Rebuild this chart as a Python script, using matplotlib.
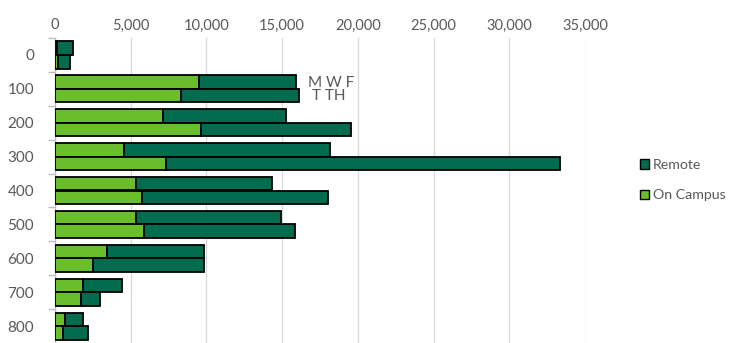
"""Course enrolment by level: on-campus vs remote, MWF and TTH sections."""

import matplotlib

matplotlib.use("Agg")
import matplotlib.pyplot as plt
from matplotlib.patches import Patch
from matplotlib.ticker import FuncFormatter, FixedLocator

LEVELS = ["0", "100", "200", "300", "400", "500", "600", "700", "800"]
MWF_CAMPUS = [100, 9480, 7120, 4570, 5380, 5380, 3450, 1820, 630]
MWF_REMOTE = [1120, 6420, 8150, 13560, 8920, 9560, 6380, 2620, 1210]
TTH_CAMPUS = [200, 8330, 9610, 7360, 5730, 5850, 2520, 1730, 520]
TTH_REMOTE = [800, 7800, 9910, 26010, 12310, 10010, 7310, 1260, 1630]
X_TICKS = [0, 5000, 10000, 15000, 20000, 25000, 30000, 35000]

CAMPUS_COLOR = "#6abd2b"
REMOTE_COLOR = "#036b4e"
TEXT_COLOR = "#595959"


def configure_matplotlib() -> None:
    plt.rcParams["font.family"] = ["Lato", "DejaVu Sans"]
    plt.rcParams["font.size"] = 11
    plt.rcParams["text.color"] = TEXT_COLOR
    plt.rcParams["xtick.color"] = TEXT_COLOR
    plt.rcParams["ytick.color"] = TEXT_COLOR


def main() -> None:
    configure_matplotlib()
    fig = plt.figure(figsize=(7.30, 3.43), dpi=100)
    ax = fig.add_axes([55 / 730, 0.0, (585 - 55) / 730, 1 - 38 / 343])

    pos = list(range(len(LEVELS)))
    top = [p - 0.2 for p in pos]
    bottom = [p + 0.2 for p in pos]
    bar_kw = dict(height=0.4, edgecolor="black", linewidth=1.3, zorder=3)

    ax.barh(top, MWF_CAMPUS, color=CAMPUS_COLOR, **bar_kw)
    ax.barh(top, MWF_REMOTE, left=MWF_CAMPUS, color=REMOTE_COLOR, **bar_kw)
    ax.barh(bottom, TTH_CAMPUS, color=CAMPUS_COLOR, **bar_kw)
    ax.barh(bottom, TTH_REMOTE, left=TTH_CAMPUS, color=REMOTE_COLOR, **bar_kw)

    ax.set_xlim(0, 35000)
    ax.set_ylim(len(LEVELS) - 0.5, -0.5)

    ax.xaxis.tick_top()
    ax.set_xticks(X_TICKS)
    ax.xaxis.set_major_formatter(FuncFormatter(lambda v, _: f"{int(v):,}"))
    ax.tick_params(axis="x", length=0, pad=4, labelsize=10.5)
    ax.grid(axis="x", color="#d9d9d9", linewidth=0.9, zorder=0)

    ax.set_yticks(pos)
    ax.set_yticklabels(LEVELS)
    ax.tick_params(axis="y", which="major", length=0, pad=15, labelsize=11)
    ax.yaxis.set_minor_locator(FixedLocator([p + 0.5 for p in pos[:-1]] + [-0.5]))
    ax.tick_params(axis="y", which="minor", length=5, color="#bfbfbf", width=1)

    for side in ["top", "right", "bottom"]:
        ax.spines[side].set_visible(False)
    ax.spines["left"].set_color("#bfbfbf")
    ax.spines["left"].set_linewidth(1.0)

    ax.text(16700, 0.82, "M W F", ha="left", va="center", fontsize=11, color=TEXT_COLOR)
    ax.text(17000, 1.21, "T TH", ha="left", va="center", fontsize=11, color=TEXT_COLOR)

    handles = [
        Patch(facecolor=REMOTE_COLOR, edgecolor="black", linewidth=1.0, label="Remote"),
        Patch(facecolor=CAMPUS_COLOR, edgecolor="black", linewidth=1.0, label="On Campus"),
    ]
    fig.legend(
        handles=handles,
        loc="center left",
        bbox_to_anchor=(634 / 730, 1 - 180 / 343),
        frameon=False,
        fontsize=10.2,
        handlelength=0.65,
        handleheight=0.65,
        handletextpad=0.3,
        labelspacing=1.3,
        borderaxespad=0,
        labelcolor=TEXT_COLOR,
    )

    fig.savefig("out.png", dpi=100)
    plt.close(fig)


if __name__ == "__main__":
    main()
